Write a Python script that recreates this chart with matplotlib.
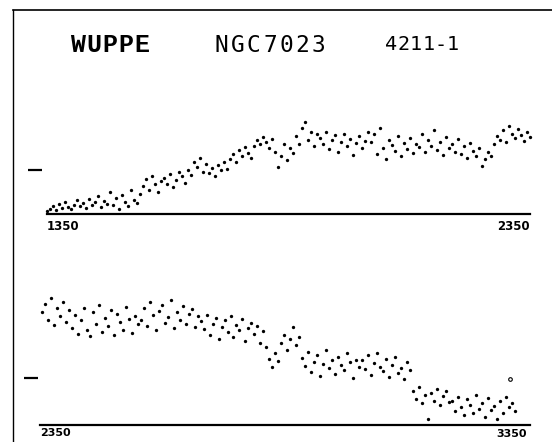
import numpy as np
import matplotlib.pyplot as plt
from matplotlib.lines import Line2D

W, H = 552, 442

# upper panel: 1350-2350 A, relative flux
top_range = (1350, 2350)
top_flux = [3, 5, 8, 4, 10, 6, 12, 7, 5, 9, 14,
            8, 11, 6, 15, 9, 12, 18, 7, 13, 10, 22, 9, 16, 5, 19, 12, 8, 24, 14, 11,
            20, 28, 35, 24, 38, 30, 22, 33,
            36, 30, 40, 27, 34, 42, 38, 31,
            44, 39, 52, 47, 56, 42, 50,
            41, 46, 38, 49, 44, 52, 45,
            55, 60, 52, 64, 58, 67, 61, 56,
            68, 74, 70, 77, 72, 66, 75,
            62, 47, 58, 70, 54, 66, 61,
            78, 70, 86, 92, 74, 82, 68, 80,
            76, 70, 82, 65, 74, 79, 62, 72, 80, 68, 75, 59, 71, 78, 66, 73, 82,
            72, 80, 60, 86, 66, 55, 74, 69, 63, 78, 58, 71, 65, 76, 61, 70, 67, 80, 62,
            74, 68, 84, 64, 72, 59, 77, 66, 70, 62, 75, 60, 68, 56, 71, 63, 58, 66,
            48, 55, 62, 58,
            70, 78, 74, 84, 72, 88, 80, 76, 85, 79, 73, 82, 77]

# lower panel: 2350-3350 A
bot_range = (2350, 3350)
bot_wl_span = (2354, 3325)
bot_flux = [113, 121, 105, 127, 100, 117, 109, 123, 103, 115,
            97, 110, 91, 105, 117, 95, 89, 113, 101, 120, 93, 107, 99, 115, 90, 111, 103, 95, 118, 106, 92, 109, 101,
            105, 117, 99, 123, 110, 95, 114, 120, 102, 108, 125, 97, 113, 105, 119, 101, 111, 116, 98, 109,
            104, 96, 110, 90, 101, 107, 86, 98, 105, 93, 109, 88, 100, 95, 106, 84, 97, 102, 91, 99, 82, 94,
            78, 66, 58, 72, 64,
            82, 90, 75, 86, 98, 80, 88,
            67, 59, 73, 53, 63, 70, 49, 61, 75, 57, 65, 51, 68, 60, 55, 72, 63, 47, 65, 58,
            65, 56, 70, 50, 62, 72, 58, 54, 66, 48, 60, 68, 52, 57, 46, 63, 55,
            34, 26, 38, 22, 30, 6, 32, 24, 36, 20, 29, 34, 23,
            24, 14, 28, 18, 10, 26, 20, 12, 30, 16, 22, 8, 27, 15, 19, 6, 24, 12, 28, 18, 22, 14]
odd_wl = [3315]
odd_flux = [46]

top_wl = np.linspace(top_range[0], top_range[1], len(top_flux))
bot_wl = np.linspace(bot_wl_span[0], bot_wl_span[1], len(bot_flux))

fig = plt.figure(figsize=(W / 100, H / 100), dpi=100)


def panel(left, right, base, height, tick_y, gap):
    ax = fig.add_axes([left / W, (H - base) / H, (right - left) / W, height / H])
    ax.set_ylim(0, height)
    for s in ['top', 'right', 'left']:
        ax.spines[s].set_visible(False)
    ax.spines['bottom'].set_linewidth(1.6)
    ax.spines['left'].set_position(('outward', gap * 0.72))
    ax.set_xticks([])
    ax.set_yticks([tick_y])
    ax.set_yticklabels([])
    ax.tick_params(axis='y', length=10, width=1.6, direction='out')
    ax.patch.set_alpha(0)
    return ax


def spaced(text, x0, adv, y, **kw):
    # plotter lettering: fixed pitch per character
    for i, c in enumerate(text):
        fig.text((x0 + i * adv) / W, 1 - y / H, c, ha='center', va='center', **kw)


ax1 = panel(47, 530, 214, 120, 44, 5)
ax1.set_xlim(*top_range)
ax1.plot(top_wl, top_flux, 'o', color='black', ms=2.4, mew=0, clip_on=False)
ax1.annotate('1350', xy=(0, 0), xycoords='axes fraction', xytext=(0, -4), textcoords='offset points',
             ha='left', va='top', fontsize=8.5, fontweight='bold')
ax1.annotate('2350', xy=(1, 0), xycoords='axes fraction', xytext=(0, -4), textcoords='offset points',
             ha='right', va='top', fontsize=8.5, fontweight='bold')

ax2 = panel(40, 530, 425, 140, 47, 2)
ax2.set_xlim(bot_range[0], bot_range[0] + (bot_range[1] - bot_range[0]) * 490 / 487)
ax2.plot(bot_wl, bot_flux, 'o', color='black', ms=2.4, mew=0, clip_on=False)
ax2.plot(odd_wl, odd_flux, 'o', mfc='white', mec='black', ms=2.6, mew=0.8)
ax2.annotate('2350', xy=(0, 0), xycoords='axes fraction', xytext=(0, -2.5), textcoords='offset points',
             ha='left', va='top', fontsize=8, fontweight='bold')
ax2.annotate('3350', xy=(bot_range[1], 0), xycoords=('data', 'axes fraction'), xytext=(0, -3),
             textcoords='offset points', ha='right', va='top', fontsize=8, fontweight='bold')

# title line
spaced('WUPPE', 78, 16, 45, family='Liberation Mono', fontweight='bold', fontsize=18)
spaced('NGC7023', 221, 16.3, 45, family='DejaVu Sans Mono', fontsize=16.5)
spaced('4211-1', 391, 12.4, 45, family='DejaVu Sans Mono', fontsize=14.5)

# frame
fig.add_artist(Line2D([13 / W, 1], [1 - 9.5 / H, 1 - 9.5 / H], transform=fig.transFigure, color='black', lw=1.2))
fig.add_artist(Line2D([13 / W, 13 / W], [1 - 9.5 / H, 0], transform=fig.transFigure, color='black', lw=1.0))

fig.savefig('out.png', dpi=100)
